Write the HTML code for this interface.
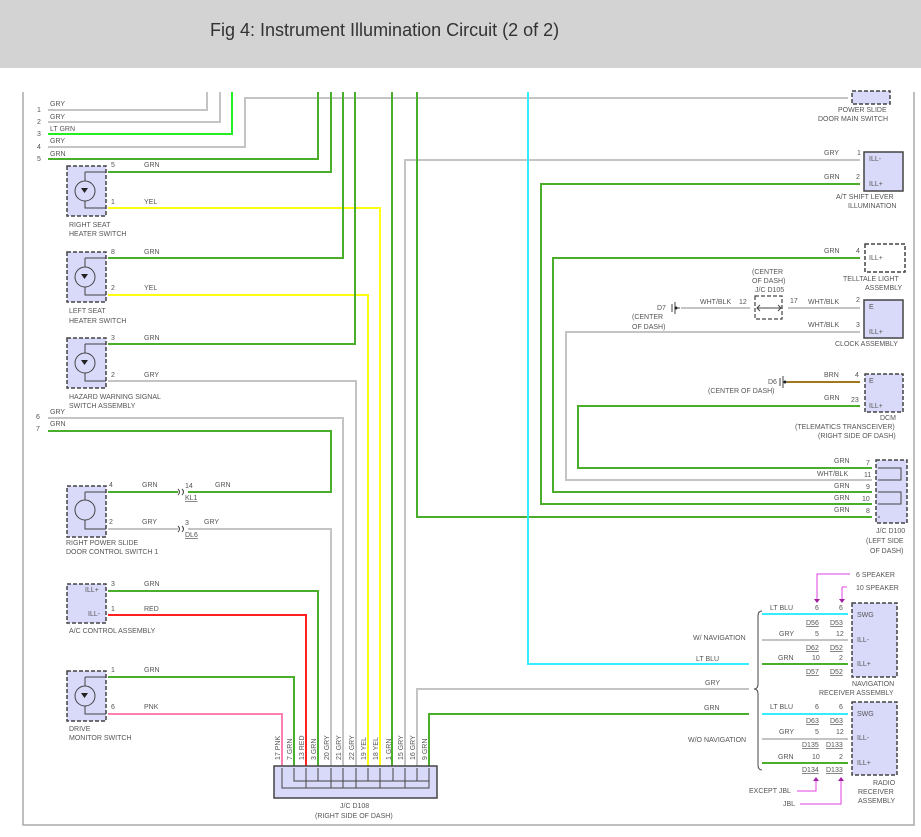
<!DOCTYPE html>
<html><head><meta charset="utf-8"><style>
html,body{margin:0;padding:0;background:#fff;}
#hdr{position:absolute;left:0;top:0;width:921px;height:68px;background:#d3d3d3;}
#hdr span{position:absolute;left:210px;top:20px;font:18px "Liberation Sans",sans-serif;color:#333;}
svg{position:absolute;left:0;top:0;}
text{font-family:"Liberation Sans",sans-serif;font-size:7px;fill:#555;}
.g{stroke:#4aad2c;stroke-width:2;fill:none}
.y{stroke:#ffff10;stroke-width:2;fill:none}
.r{stroke:#c4c4c4;stroke-width:2;fill:none}
.lg{stroke:#22ee22;stroke-width:2;fill:none}
.c{stroke:#33eeff;stroke-width:2;fill:none}
.rd{stroke:#ff2020;stroke-width:2;fill:none}
.p{stroke:#ff80b0;stroke-width:2;fill:none}
.b{stroke:#a07820;stroke-width:2;fill:none}
.bx{fill:#d9d9f9;stroke:#444;stroke-width:1.5;stroke-dasharray:4,2}
.bs{fill:#d9d9f9;stroke:#444;stroke-width:1.5}
.k{stroke:#444;stroke-width:1;fill:none}
.m{stroke:#e040e0;stroke-width:1;fill:none}
</style></head><body>
<div id="hdr"><span>Fig 4: Instrument Illumination Circuit (2 of 2)</span></div>
<svg width="921" height="837" viewBox="0 0 921 837">
<!-- frame -->
<path d="M23,92 V825 H914 V92" stroke="#aaa" stroke-width="1.5" fill="none"/>
<!-- wires -->
<path class="r" d="M48,110 H207 V92"/>
<path class="r" d="M48,122 H220 V92"/>
<path class="lg" d="M48,134 H232 V92"/>
<path class="r" d="M48,147 H245 V98 H848"/>
<path class="g" d="M48,159 H318 V92"/>
<path class="g" d="M108,172 H331 V92"/>
<path class="y" d="M108,208 H380 V766"/>
<path class="g" d="M108,258 H343 V92"/>
<path class="y" d="M108,295 H368 V766"/>
<path class="g" d="M108,344 H355 V92"/>
<path class="r" d="M108,381 H356 V766"/>
<path class="r" d="M48,418 H343 V766"/>
<path class="g" d="M48,431 H331 V492 H188"/>
<path class="g" d="M108,492 H178"/>
<path class="r" d="M108,529 H178 M188,529 H331 V766"/>
<path class="g" d="M108,591 H318 V766"/>
<path class="rd" d="M108,615 H306 V766"/>
<path class="g" d="M108,677 H294 V766"/>
<path class="p" d="M108,714 H282 V766"/>
<path class="g" d="M392,92 V766"/>
<path class="r" d="M860,160 H405 V766"/>
<path class="g" d="M417,92 V517 H872"/>
<path class="r" d="M417,766 V689 H749"/>
<path class="g" d="M429,766 V714 H749"/>
<path class="c" d="M528,92 V664 H749"/>
<path class="g" d="M860,184 H541 V504 H872"/>
<path class="g" d="M860,258 H553 V492 H872"/>
<path class="r" d="M860,332 H566 V480 H872"/>
<path class="g" d="M860,406 H578 V468 H872"/>
<path class="r" d="M681,308 H750 M788,308 H860" stroke-width="1.5"/>
<path class="b" d="M787,382 H860"/>
<path class="c" d="M762,614 H848 M762,714 H848"/>
<path class="r" d="M762,640 H848 M762,739 H848"/>
<path class="g" d="M762,664 H848 M762,763 H848"/>
<path class="k" d="M762,611 Q758,611 758,616 V684 Q758,689 754,689 Q758,689 758,694 V765 Q758,770 762,770"/>
<!-- left wire labels -->
<g>
<text x="37" y="112">1</text><text x="50" y="106">GRY</text>
<text x="37" y="124">2</text><text x="50" y="119">GRY</text>
<text x="37" y="136">3</text><text x="50" y="131">LT GRN</text>
<text x="37" y="149">4</text><text x="50" y="143">GRY</text>
<text x="37" y="161">5</text><text x="50" y="156">GRN</text>
<text x="36" y="419">6</text><text x="50" y="414">GRY</text>
<text x="36" y="431">7</text><text x="50" y="426">GRN</text>
</g>
<!-- left components -->
<g>
<rect class="bx" x="67" y="166" width="39" height="50"/>
<rect class="bx" x="67" y="252" width="39" height="50"/>
<rect class="bx" x="67" y="338" width="39" height="50"/>
<rect class="bx" x="67" y="486" width="39" height="51"/>
<rect class="bx" x="67" y="584" width="39" height="39"/>
<rect class="bx" x="67" y="671" width="39" height="50"/>
<g class="k">
<circle cx="85" cy="191" r="10"/><path d="M85,172 H106 M85,172 V181 M85,201 V208 H106"/>
<circle cx="85" cy="277" r="10"/><path d="M85,258 H106 M85,258 V267 M85,287 V295 H106"/>
<circle cx="85" cy="363" r="10"/><path d="M85,344 H106 M85,344 V353 M85,373 V381 H106"/>
<circle cx="85" cy="510" r="10"/><path d="M85,492 H106 M85,492 V500 M85,520 V529 H106"/>
<circle cx="85" cy="696" r="10"/><path d="M85,677 H106 M85,677 V686 M85,706 V714 H106"/>
</g>
<g fill="#222"><path d="M81,188 h7 l-3.5,5z M81,274 h7 l-3.5,5z M81,360 h7 l-3.5,5z M81,693 h7 l-3.5,5z"/></g>
<text x="85" y="592">ILL+</text><text x="88" y="616">ILL-</text>
<text x="69" y="227">RIGHT SEAT</text><text x="69" y="236">HEATER SWITCH</text>
<text x="69" y="313">LEFT SEAT</text><text x="69" y="323">HEATER SWITCH</text>
<text x="69" y="399">HAZARD WARNING SIGNAL</text><text x="69" y="408">SWITCH ASSEMBLY</text>
<text x="66" y="545">RIGHT POWER SLIDE</text><text x="66" y="554">DOOR CONTROL SWITCH 1</text>
<text x="69" y="633">A/C CONTROL ASSEMBLY</text>
<text x="69" y="731">DRIVE</text><text x="69" y="740">MONITOR SWITCH</text>
<text x="111" y="167">5</text><text x="144" y="167">GRN</text>
<text x="111" y="204">1</text><text x="144" y="204">YEL</text>
<text x="111" y="254">8</text><text x="144" y="254">GRN</text>
<text x="111" y="290">2</text><text x="144" y="290">YEL</text>
<text x="111" y="340">3</text><text x="144" y="340">GRN</text>
<text x="111" y="377">2</text><text x="144" y="377">GRY</text>
<text x="109" y="487">4</text><text x="142" y="487">GRN</text>
<text x="109" y="524">2</text><text x="142" y="524">GRY</text>
<text x="111" y="586">3</text><text x="144" y="586">GRN</text>
<text x="111" y="611">1</text><text x="144" y="611">RED</text>
<text x="111" y="672">1</text><text x="144" y="672">GRN</text>
<text x="111" y="709">6</text><text x="144" y="709">PNK</text>
<path class="k" d="M178,489 q3,3 0,6 M182,489 q3,3 0,6 M178,526 q3,3 0,6 M182,526 q3,3 0,6"/>
<text x="185" y="488">14</text><text x="215" y="487">GRN</text><text x="185" y="500" text-decoration="underline">KL1</text>
<text x="185" y="525">3</text><text x="204" y="524">GRY</text><text x="185" y="537" text-decoration="underline">DL6</text>
</g>
<!-- J/C D108 -->
<rect class="bs" x="274" y="766" width="163" height="32"/>
<path class="k" d="M282,768 V788 H429 V768 M294,768 V781 H429 M306,788 V768 M318,781 V768 M331,788V768 M343,788V768 M356,788V768 M368,781V768 M380,788V768 M393,781V768 M405,788V768 M417,781V768"/>
<g font-size="7">
<text transform="translate(280,760) rotate(-90)">17  PNK</text>
<text transform="translate(292,760) rotate(-90)">7  GRN</text>
<text transform="translate(304,760) rotate(-90)">13  RED</text>
<text transform="translate(316,760) rotate(-90)">3  GRN</text>
<text transform="translate(329,760) rotate(-90)">20  GRY</text>
<text transform="translate(341,760) rotate(-90)">21  GRY</text>
<text transform="translate(354,760) rotate(-90)">22  GRY</text>
<text transform="translate(366,760) rotate(-90)">19  YEL</text>
<text transform="translate(378,760) rotate(-90)">18  YEL</text>
<text transform="translate(391,760) rotate(-90)">1  GRN</text>
<text transform="translate(403,760) rotate(-90)">15  GRY</text>
<text transform="translate(415,760) rotate(-90)">16  GRY</text>
<text transform="translate(427,760) rotate(-90)">9  GRN</text>
</g>
<text x="340" y="808">J/C D108</text><text x="315" y="818">(RIGHT SIDE OF DASH)</text>
<!-- right components -->
<rect class="bx" x="852" y="91" width="38" height="13"/>
<text x="838" y="112">POWER SLIDE</text><text x="818" y="121">DOOR MAIN SWITCH</text>
<rect class="bs" x="864" y="152" width="39" height="39"/>
<text x="869" y="161">ILL-</text><text x="869" y="186">ILL+</text>
<text x="824" y="155">GRY</text><text x="857" y="155">1</text>
<text x="824" y="179">GRN</text><text x="856" y="179">2</text>
<text x="836" y="199">A/T SHIFT LEVER</text><text x="848" y="208">ILLUMINATION</text>
<rect x="865" y="244" width="40" height="28" fill="#fff" stroke="#444" stroke-width="1.5" stroke-dasharray="4,2"/>
<text x="869" y="260">ILL+</text><text x="824" y="253">GRN</text><text x="856" y="253">4</text>
<text x="843" y="281">TELLTALE LIGHT</text><text x="865" y="290">ASSEMBLY</text>
<text x="752" y="274">(CENTER</text><text x="752" y="283">OF DASH)</text><text x="755" y="292">J/C D105</text>
<rect x="755" y="296" width="27" height="23" fill="#fff" stroke="#444" stroke-width="1.2" stroke-dasharray="4,2"/>
<path class="k" d="M757,308 H781 M760,305 l-3,3 3,3 M778,305 l3,3 -3,3"/>
<text x="739" y="304">12</text><text x="790" y="303">17</text>
<text x="700" y="304">WHT/BLK</text><text x="808" y="304">WHT/BLK</text>
<text x="657" y="310">D7</text><path class="k" d="M672,304 v8 M675,302 v12 M675,308 h5"/><circle cx="676" cy="308" r="1.5" fill="#222"/>
<text x="632" y="319">(CENTER</text><text x="632" y="329">OF DASH)</text>
<rect class="bs" x="864" y="300" width="39" height="38"/>
<text x="869" y="309">E</text><text x="869" y="334">ILL+</text>
<text x="856" y="302">2</text><text x="856" y="327">3</text>
<text x="808" y="327">WHT/BLK</text>
<text x="835" y="346">CLOCK ASSEMBLY</text>
<text x="768" y="384">D6</text><path class="k" d="M780,378 v8 M783,376 v12 M783,382 h4"/><circle cx="785" cy="382" r="1.5" fill="#222"/>
<text x="708" y="393">(CENTER OF DASH)</text>
<text x="824" y="377">BRN</text><text x="855" y="377">4</text>
<text x="824" y="400">GRN</text><text x="851" y="402">23</text>
<rect class="bx" x="865" y="374" width="38" height="38"/>
<text x="869" y="383">E</text><text x="869" y="408">ILL+</text>
<text x="880" y="420">DCM</text><text x="795" y="429">(TELEMATICS TRANSCEIVER)</text><text x="818" y="438">(RIGHT SIDE OF DASH)</text>
<!-- J/C D100 -->
<rect class="bx" x="876" y="460" width="31" height="63"/>
<path class="k" d="M878,468 H901 V480 H878 M878,492 H901 V504 H878 M878,517 h2"/>
<text x="834" y="463">GRN</text><text x="866" y="465">7</text>
<text x="817" y="476">WHT/BLK</text><text x="864" y="477">11</text>
<text x="834" y="488">GRN</text><text x="866" y="489">9</text>
<text x="834" y="500">GRN</text><text x="862" y="501">10</text>
<text x="834" y="512">GRN</text><text x="866" y="513">8</text>
<text x="876" y="533">J/C D100</text><text x="866" y="543">(LEFT SIDE</text><text x="870" y="553">OF DASH)</text>
<!-- nav / radio -->
<path class="m" d="M850,574 H817 V600 M842,587 V600 M847,587 H842"/>
<path d="M814,599 h6 l-3,4z M839,599 h6 l-3,4z" fill="#a020a0"/>
<text x="856" y="577">6 SPEAKER</text><text x="856" y="590">10 SPEAKER</text>
<rect class="bx" x="852" y="603" width="45" height="74"/>
<text x="857" y="617">SWG</text><text x="857" y="642">ILL-</text><text x="857" y="666">ILL+</text>
<text x="770" y="610">LT BLU</text><text x="815" y="610">6</text><text x="839" y="610">6</text>
<text x="806" y="625" text-decoration="underline">D56</text><text x="830" y="625" text-decoration="underline">D53</text>
<text x="779" y="636">GRY</text><text x="815" y="636">5</text><text x="836" y="636">12</text>
<text x="806" y="650" text-decoration="underline">D62</text><text x="830" y="650" text-decoration="underline">D52</text>
<text x="778" y="660">GRN</text><text x="812" y="660">10</text><text x="839" y="660">2</text>
<text x="806" y="674" text-decoration="underline">D57</text><text x="830" y="674" text-decoration="underline">D52</text>
<text x="693" y="640">W/ NAVIGATION</text>
<text x="696" y="661">LT BLU</text><text x="705" y="685">GRY</text><text x="704" y="710">GRN</text>
<text x="852" y="686">NAVIGATION</text><text x="819" y="695">RECEIVER ASSEMBLY</text>
<rect class="bx" x="852" y="702" width="45" height="73"/>
<text x="857" y="716">SWG</text><text x="857" y="740">ILL-</text><text x="857" y="765">ILL+</text>
<text x="770" y="709">LT BLU</text><text x="815" y="709">6</text><text x="839" y="709">6</text>
<text x="806" y="723" text-decoration="underline">D63</text><text x="830" y="723" text-decoration="underline">D63</text>
<text x="779" y="734">GRY</text><text x="815" y="734">5</text><text x="836" y="734">12</text>
<text x="802" y="747" text-decoration="underline">D135</text><text x="826" y="747" text-decoration="underline">D133</text>
<text x="778" y="759">GRN</text><text x="812" y="759">10</text><text x="839" y="759">2</text>
<text x="802" y="772" text-decoration="underline">D134</text><text x="826" y="772" text-decoration="underline">D133</text>
<text x="688" y="742">W/O NAVIGATION</text>
<path class="m" d="M797,791 H816 V780 M800,804 H841 V780"/>
<path d="M813,781 h6 l-3,-4z M838,781 h6 l-3,-4z" fill="#a020a0"/>
<text x="749" y="793">EXCEPT JBL</text><text x="783" y="806">JBL</text>
<text x="873" y="785">RADIO</text><text x="858" y="794">RECEIVER</text><text x="858" y="803">ASSEMBLY</text>
</svg>
</body></html>
